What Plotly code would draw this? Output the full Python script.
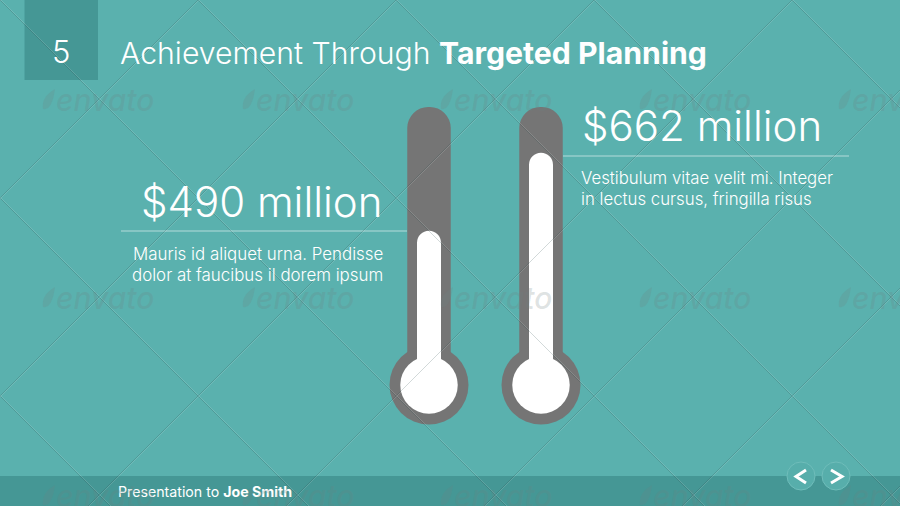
import plotly.graph_objects as go

W, H = 900, 506
categories = ["Left", "Right"]
values = [490, 662]
capacity = [763, 763]
bulb_level = [150, 150]
slide_number = "5"
title_plain = "Achievement Through "
title_bold = "Targeted Planning"
desc_left = ["Mauris id aliquet urna. Pendisse", "dolor at faucibus il dorem ipsum"]
desc_right = ["Vestibulum vitae velit mi. Integer", "in lectus cursus, fringilla risus"]
footer_plain = "Presentation to "
footer_bold = "Joe Smith"
watermark = "envato"

BG, DARK, GREY = "#5AB1AE", "#459795", "#757575"
FONT = "Inter"

# axis calibration: pixel row -> value, pixel column -> category slot
px_per_val = 78 / 172
yr = [(453 - 506) / px_per_val, 453 / px_per_val]
slot = 112
xr = [-429 / slot, (900 - 429) / slot]


def py(p):
    return 1 - p / H


fig = go.Figure()
fig.add_bar(x=categories, y=[c - b for c, b in zip(capacity, bulb_level)], base=bulb_level,
            width=43.5 / slot, marker=dict(color=GREY, cornerradius=21, line_width=0))
fig.add_scatter(x=categories, y=bulb_level, mode="markers",
                marker=dict(size=79, color=GREY, line_width=0))
fig.add_bar(x=categories, y=[v - b for v, b in zip(values, bulb_level)], base=bulb_level,
            width=24 / slot, marker=dict(color="white", cornerradius=12, line_width=0),
            xaxis="x2", yaxis="y2")
fig.add_scatter(x=categories, y=bulb_level, mode="markers",
                marker=dict(size=57.5, color="white", line_width=0), xaxis="x2", yaxis="y2")

shapes = [
    dict(type="rect", xref="paper", yref="paper", x0=0, x1=1, y0=0, y1=py(476),
         fillcolor=DARK, line_width=0, layer="below"),
    dict(type="rect", xref="paper", yref="paper", x0=24.5 / W, x1=98 / W, y0=py(80), y1=1,
         fillcolor=DARK, line_width=0, layer="below"),
    dict(type="line", xref="paper", yref="paper", x0=121 / W, x1=407 / W, y0=py(231), y1=py(231),
         line=dict(color="rgba(255,255,255,0.55)", width=1), layer="below"),
    dict(type="line", xref="paper", yref="paper", x0=563 / W, x1=849 / W, y0=py(156), y1=py(156),
         line=dict(color="rgba(255,255,255,0.55)", width=1), layer="below"),
]

# faint diagonal watermark lattice
step = 198
for k in range(-3, 8):
    for color, off in (("rgba(40,70,70,0.30)", 0), ("rgba(255,255,255,0.20)", 1)):
        shapes.append(dict(type="line", xref="paper", yref="paper",
                           x0=(k * step + off) / W, x1=(k * step + off + H) / W, y0=1, y1=0,
                           line=dict(color=color, width=0.7)))
        shapes.append(dict(type="line", xref="paper", yref="paper",
                           x0=((k + 1) * step + off) / W, x1=((k + 1) * step + off - H) / W, y0=1, y1=0,
                           line=dict(color=color, width=0.7)))

# navigation buttons
for cx, pts in ((801, [(806, 470), (796, 476.5), (806, 483)]), (836, [(831, 470), (842, 476.5), (831, 483)])):
    shapes.append(dict(type="circle", xref="paper", yref="paper", x0=(cx - 14) / W, x1=(cx + 14) / W,
                       y0=py(490), y1=py(462), fillcolor="#57AEAB",
                       line=dict(color="#6FBDBA", width=1)))
    path = "M " + " L ".join(f"{x / W},{py(y)}" for x, y in pts)
    shapes.append(dict(type="path", xref="paper", yref="paper", path=path,
                       line=dict(color="white", width=3)))


def txt(x, y, s, size, anchor="left", color="white", weight=300, font=FONT):
    return dict(xref="paper", yref="paper", x=x / W, y=py(y), text=s, showarrow=False,
                xanchor=anchor, yanchor="middle", align=anchor,
                font=dict(family=font, size=size, color=color, weight=weight))


ann = [
    txt(61, 52, slide_number, 31, "center"),
    txt(117.5, 53, f"{title_plain}<span style='font-weight:700'>{title_bold}</span>", 30.2),
    txt(384, 201.5, f"${values[0]} million", 42, "right"),
    txt(579.5, 125, f"${values[1]} million", 42),
    txt(385, 254, desc_left[0], 16.9, "right"),
    txt(385, 275, desc_left[1], 16.9, "right"),
    txt(579, 178, desc_right[0], 16.8),
    txt(579, 199, desc_right[1], 16.8),
    txt(116, 491, f"{footer_plain}<span style='font-weight:700'>{footer_bold}</span>", 14.2, weight=400),
]
for wy in (100, 298, 496):
    for wx in (40, 240, 438, 637, 836):
        ann.append(txt(wx + 14, wy, f"<i>{watermark}</i>", 30, color="rgba(110,130,130,0.22)", weight=500))
        shapes.append(dict(type="path", xref="paper", yref="paper",
                           path=f"M {(wx + 15) / W},{py(wy - 11)} Q {(wx + 1) / W},{py(wy - 3)} "
                                f"{(wx + 3) / W},{py(wy + 9)} Q {(wx + 12) / W},{py(wy + 11)} "
                                f"{(wx + 15) / W},{py(wy - 11)} Z",
                           fillcolor="rgba(110,130,130,0.22)", line_width=0))

hidden = dict(visible=False, fixedrange=True)
fig.update_layout(
    width=W, height=H, margin=dict(l=0, r=0, t=0, b=0),
    paper_bgcolor=BG, plot_bgcolor=BG, showlegend=False, barmode="overlay",
    xaxis=dict(type="category", categoryorder="array", categoryarray=categories, range=xr, **hidden),
    yaxis=dict(range=yr, **hidden),
    xaxis2=dict(type="category", categoryorder="array", categoryarray=categories, range=xr,
                overlaying="x", **hidden),
    yaxis2=dict(range=yr, overlaying="y", **hidden),
    shapes=shapes, annotations=ann,
)
fig.write_html("out.html", config={"displayModeBar": False},
               post_script="document.body.style.margin='0';document.body.style.overflow='hidden';")
